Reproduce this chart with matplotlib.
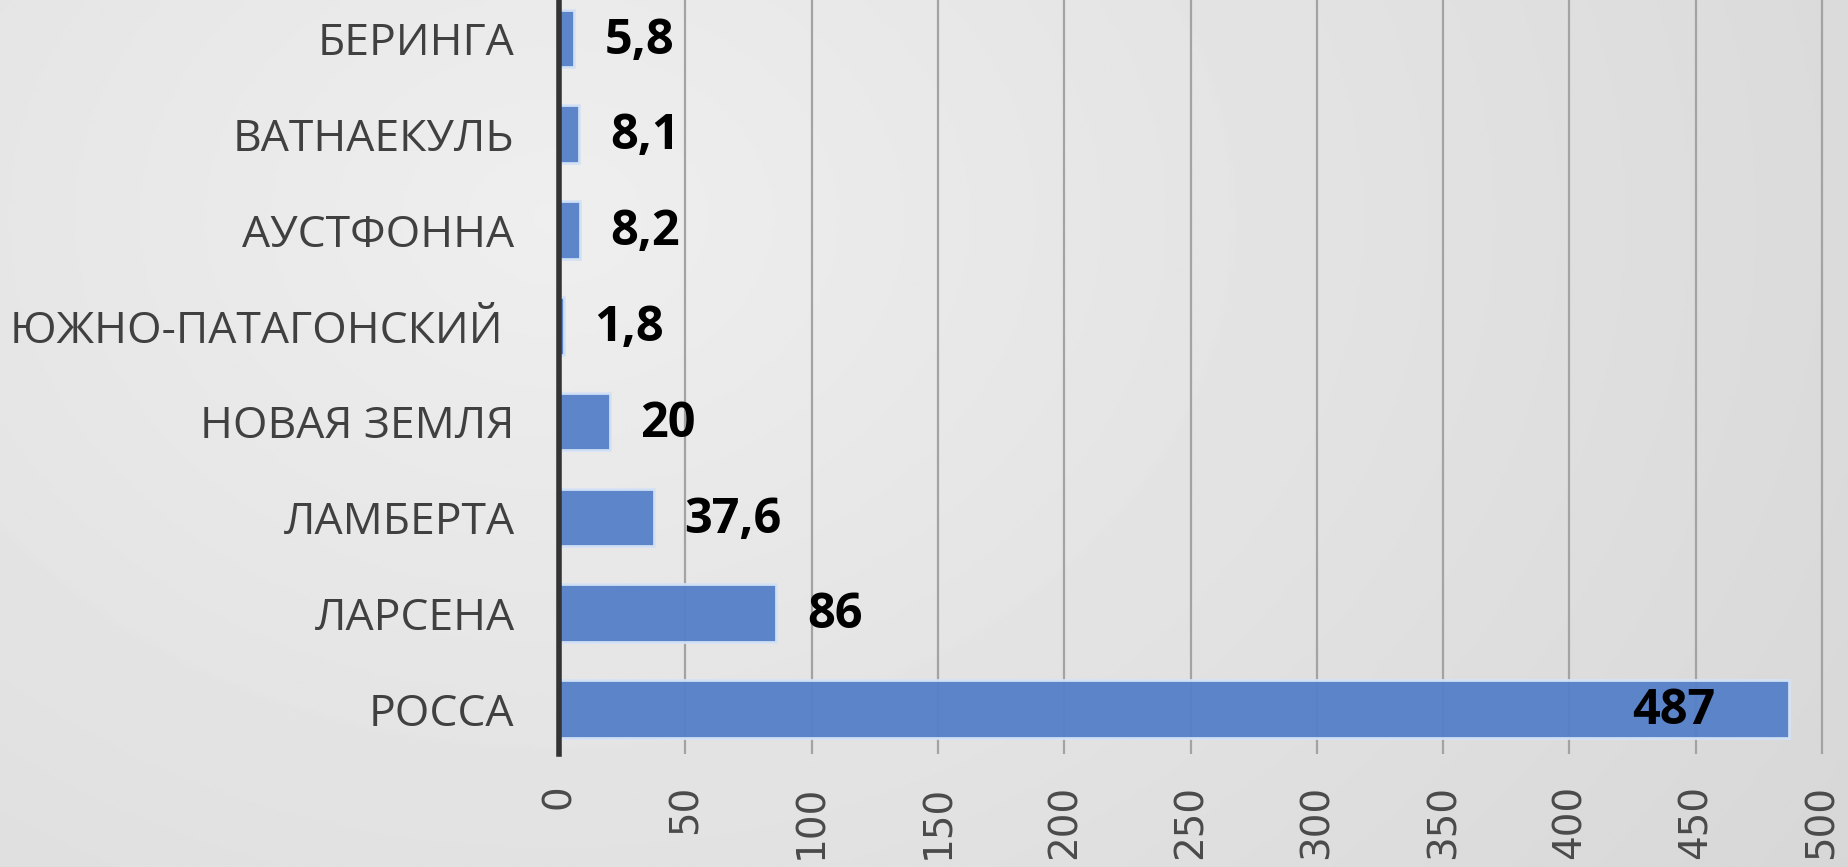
import numpy as np
import matplotlib
matplotlib.use('Agg')
import matplotlib.pyplot as plt

categories = ['РОССА', 'ЛАРСЕНА', 'ЛАМБЕРТА', 'НОВАЯ ЗЕМЛЯ',
              'ЮЖНО-ПАТАГОНСКИЙ ', 'АУСТФОННА', 'ВАТНАЕКУЛЬ', 'БЕРИНГА']
values = [487, 86, 37.6, 20, 1.8, 8.2, 8.1, 5.8]
xticks = [0, 50, 100, 150, 200, 250, 300, 350, 400, 450, 500]

W, H = 1848, 867
fig = plt.figure(figsize=(W / 100, H / 100), dpi=100)

# background gradient
bg = fig.add_axes([0, 0, 1, 1], zorder=-10)
yy, xx = np.mgrid[0:1:300j, 0:1:600j]
r = np.sqrt((xx - 0.3) ** 2 + ((yy - 0.25) * 0.6) ** 2)
g = 0.935 - 0.11 * r
bg.imshow(g, cmap='gray', vmin=0, vmax=1, extent=[0, 1, 0, 1],
          aspect='auto', origin='upper', interpolation='bilinear')
bg.axis('off')

px = 2.526  # pixels per unit
x0 = 559
xmax = 510
ax = fig.add_axes([x0 / W, (H - 754) / H, xmax * px / W, 763.5 / H])
ax.patch.set_alpha(0)

y = np.arange(len(categories))
ax.barh(y, values, height=0.6, color='#5580C8', edgecolor='#D5E3F5',
        linewidth=2, zorder=2, alpha=0.95)

ax.set_xlim(0, xmax)
ax.set_ylim(-0.47, 7.5)
ax.set_xticks(xticks)
ax.set_xticklabels([str(t) for t in xticks], rotation=90,
                   fontfamily='DejaVu Sans', fontsize=28, color='#4a4a4a')
ax.set_yticks(y)
ax.set_yticklabels(categories, fontfamily='Open Sans', fontsize=32, color='#404040')
ax.tick_params(axis='x', length=0, pad=22)
ax.tick_params(axis='y', length=0, pad=32)
ax.grid(axis='x', color='#A3A3A3', lw=1.6, zorder=0)
ax.set_axisbelow(True)
for s in ['top', 'right', 'bottom']:
    ax.spines[s].set_visible(False)
ax.spines['left'].set_color('#333333')
ax.spines['left'].set_linewidth(4)
ax.spines['left'].set_zorder(3)

for i, v in enumerate(values):
    lab = f"{v:g}".replace('.', ',')
    if v > 400:
        ax.annotate(lab, xy=(v, i), xytext=(-53, -2), textcoords='offset points',
                    ha='right', va='center', fontsize=35, fontweight='bold',
                    fontfamily='Open Sans', color='black', zorder=4)
    else:
        ax.annotate(lab, xy=(v, i), xytext=(22, -2), textcoords='offset points',
                    ha='left', va='center', fontsize=35, fontweight='bold',
                    fontfamily='Open Sans', color='black', zorder=4)

fig.savefig('out.png', dpi=100)
